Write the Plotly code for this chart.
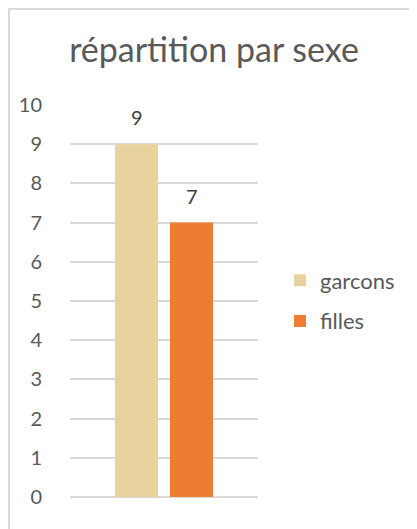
import plotly.graph_objects as go

# data
categories = ["sexe"]
series_names = ["garcons", "filles"]
garcons = [9]
filles = [7]
series_colors = ["#E8D29E", "#ED7D31"]
y_ticks = [0, 1, 2, 3, 4, 5, 6, 7, 8, 9, 10]

text_color = "#595959"
grid_color = "#D9D9D9"
font_family = "Lato, 'Open Sans', sans-serif"

fig = go.Figure()

for name, values, color in zip(series_names, [garcons, filles], series_colors):
    fig.add_trace(go.Bar(
        x=categories,
        y=values,
        name=name,
        legendgroup=name,
        marker=dict(color=color, line=dict(width=0)),
    ))

# value labels above the bars (Excel puts them a bit higher than plotly's outside text)
shifts = [-27.5, 27.5]
annotations = []
for values, dx in zip([garcons, filles], shifts):
    for cat, v in zip(categories, values):
        annotations.append(dict(
            x=cat, y=v, xref="x", yref="y",
            text=str(v), showarrow=False,
            xshift=dx, yshift=27,
            font=dict(size=20, color="#404040", family=font_family),
        ))

# the page body adds an 8px offset, margins are set to make up for it
fig.update_layout(
    width=417,
    height=529,
    autosize=False,
    margin=dict(l=62, r=167, t=97, b=40, autoexpand=False),
    paper_bgcolor="white",
    plot_bgcolor="white",
    font=dict(family=font_family, color=text_color, size=20),
    title=dict(
        text="répartition par sexe",
        x=0.494, xref="container", xanchor="center",
        y=0.921, yref="container", yanchor="middle",
        font=dict(size=34, color=text_color, family=font_family),
    ),
    barmode="group",
    bargap=0.415,
    bargroupgap=0.218,
    showlegend=True,
    legend=dict(
        x=1.117, xanchor="left",
        y=0.5, yanchor="middle",
        font=dict(size=22, color=text_color),
        tracegroupgap=9,
        itemwidth=30,
    ),
    annotations=annotations,
)

fig.update_xaxes(
    type="category",
    showgrid=False,
    showline=False,
    showticklabels=False,
    zeroline=False,
    automargin=False,
)

fig.update_yaxes(
    range=[0, 10],
    tickvals=y_ticks,
    showgrid=True,
    gridcolor=grid_color,
    gridwidth=1.5,
    zeroline=True,
    zerolinecolor=grid_color,
    zerolinewidth=1.5,
    ticks="outside",
    ticklen=23,
    tickcolor="rgba(0,0,0,0)",
    tickfont=dict(size=20, color=text_color),
    automargin=False,
)

# light grey chart border (only top and left edges are visible in the frame)
fig.add_shape(
    type="rect", xref="paper", yref="paper",
    x0=-0.3245, x1=2.0, y0=-0.5, y1=1.2449,
    line=dict(color=grid_color, width=2),
    fillcolor="rgba(0,0,0,0)",
    layer="below",
)

fig.write_html("out.html")
